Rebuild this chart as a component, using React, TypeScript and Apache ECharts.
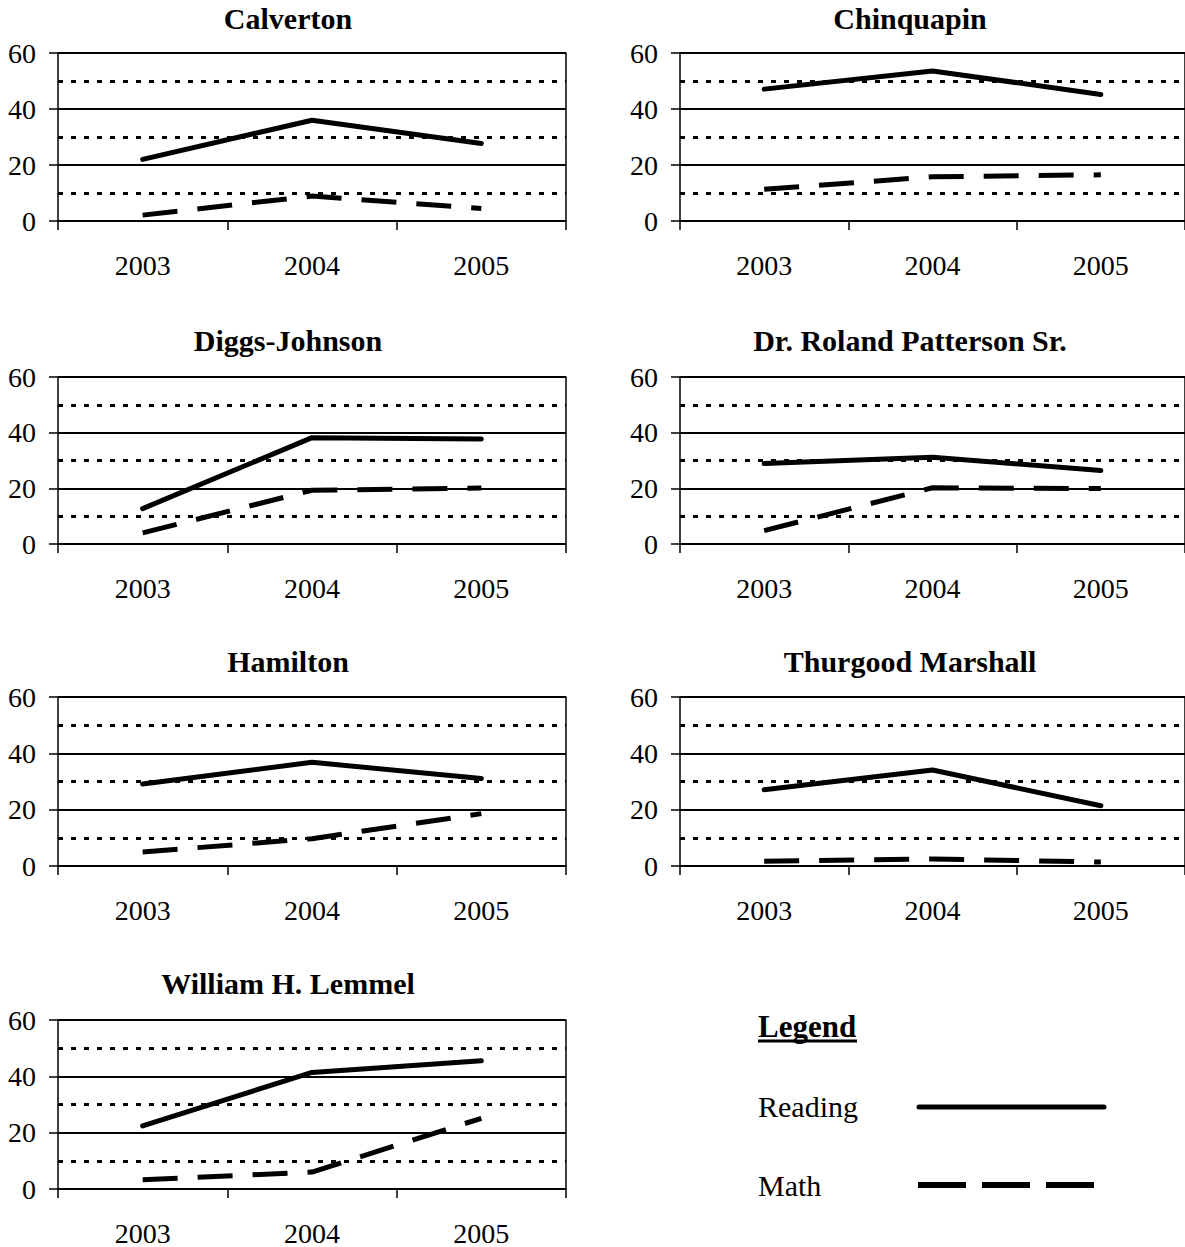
import React, { useEffect, useRef } from "react";
import * as echarts from "echarts";

const years = ["2003", "2004", "2005"];
const yTicks = [0, 20, 40, 60];

const schools = [
  "Calverton",
  "Chinquapin",
  "Diggs-Johnson",
  "Dr. Roland Patterson Sr.",
  "Hamilton",
  "Thurgood Marshall",
  "William H. Lemmel",
];

const readingCalverton = [22.0, 36.0, 27.7];
const mathCalverton = [2.1, 8.9, 4.5];
const readingChinquapin = [47.1, 53.6, 45.2];
const mathChinquapin = [11.3, 15.8, 16.5];
const readingDiggs = [12.7, 38.2, 37.7];
const mathDiggs = [4.0, 19.3, 20.1];
const readingPatterson = [28.9, 31.2, 26.4];
const mathPatterson = [4.8, 20.2, 19.9];
const readingHamilton = [29.1, 36.8, 31.1];
const mathHamilton = [5.0, 9.7, 18.6];
const readingMarshall = [27.1, 34.1, 21.4];
const mathMarshall = [1.7, 2.5, 1.4];
const readingLemmel = [22.4, 41.4, 45.5];
const mathLemmel = [3.3, 6.0, 25.1];

const readingAll = [
  readingCalverton,
  readingChinquapin,
  readingDiggs,
  readingPatterson,
  readingHamilton,
  readingMarshall,
  readingLemmel,
];
const mathAll = [
  mathCalverton,
  mathChinquapin,
  mathDiggs,
  mathPatterson,
  mathHamilton,
  mathMarshall,
  mathLemmel,
];

const legendTitle = "Legend";
const legendReading = "Reading";
const legendMath = "Math";

// layout (pixels)
const colLeft = [58, 680];
const colWidth = [508, 505];
const colTitleX = [288, 910];
const rowTop = [53, 377, 697, 1020];
const rowHeight = [168, 167, 169, 170];
const rowTitleY = [18, 340, 661, 983];

const FONT = "Liberation Serif";

function buildOption() {
  const grid: any[] = [];
  const xAxis: any[] = [];
  const yAxis: any[] = [];
  const series: any[] = [];
  const graphic: any[] = [];

  schools.forEach((name, i) => {
    const row = Math.floor(i / 2);
    const col = i % 2;
    grid.push({
      left: colLeft[col],
      top: rowTop[row],
      width: colWidth[col],
      height: rowHeight[row],
      containLabel: false,
    });
    xAxis.push({
      type: "category",
      gridIndex: i,
      data: years,
      boundaryGap: true,
      axisLine: { show: true, lineStyle: { color: "#000", width: 1.5 } },
      axisTick: { show: true, length: 9, lineStyle: { color: "#000", width: 1.5 } },
      axisLabel: {
        margin: 30,
        formatter: (v: string) => "{t|" + v + "}",
        rich: { t: { fontFamily: FONT, fontSize: 28, color: "#000" } },
      },
      splitLine: { show: false },
    });
    yAxis.push({
      type: "value",
      gridIndex: i,
      min: yTicks[0],
      max: yTicks[yTicks.length - 1],
      interval: 20,
      position: "left",
      axisLine: { show: true, lineStyle: { color: "#000", width: 1.5 } },
      axisTick: { show: true, length: 9, lineStyle: { color: "#000", width: 1.5 } },
      axisLabel: {
        margin: 22,
        formatter: (v: number) => "{t|" + v + "}",
        rich: { t: { fontFamily: "serif", fontSize: 28, color: "#000" } },
      },
      splitLine: { show: true, lineStyle: { color: "#000", width: 2 } },
    });
    yAxis.push({
      type: "value",
      gridIndex: i,
      min: 0,
      max: 60,
      interval: 10,
      position: "right",
      axisLine: { show: true, onZero: false, lineStyle: { color: "#000", width: 1.5 } },
      axisTick: { show: false },
      axisLabel: { show: false },
      splitLine: {
        show: true,
        lineStyle: {
          color: ["rgba(0,0,0,0)", "#000"],
          width: 3,
          type: [5, 8],
        },
      },
    });
    series.push({
      name: legendReading + " " + name,
      type: "line",
      xAxisIndex: i,
      yAxisIndex: i * 2,
      data: readingAll[i],
      symbol: "none",
      lineStyle: { color: "#000", width: 5, cap: "round", join: "round" },
      z: 5,
    });
    series.push({
      name: legendMath + " " + name,
      type: "line",
      xAxisIndex: i,
      yAxisIndex: i * 2,
      data: mathAll[i],
      symbol: "none",
      lineStyle: { color: "#000", width: 5, type: [35, 20], cap: "butt" },
      z: 5,
    });
    graphic.push({
      type: "text",
      x: colTitleX[col],
      y: rowTitleY[row],
      style: {
        text: name,
        fontFamily: FONT,
        fontWeight: "bold",
        fontSize: 30,
        fill: "#000",
        textAlign: "center",
        textVerticalAlign: "middle",
      },
    });
  });

  // legend block
  graphic.push(
    {
      type: "text",
      x: 758,
      y: 1026,
      style: {
        text: legendTitle,
        fontFamily: FONT,
        fontWeight: "bold",
        fontSize: 31,
        fill: "#000",
        textAlign: "left",
        textVerticalAlign: "middle",
      },
    },
    {
      type: "line",
      shape: { x1: 758, y1: 1041, x2: 857, y2: 1041 },
      style: { stroke: "#000", lineWidth: 3 },
    },
    {
      type: "text",
      x: 758,
      y: 1106,
      style: {
        text: legendReading,
        fontFamily: FONT,
        fontSize: 30,
        fill: "#000",
        textAlign: "left",
        textVerticalAlign: "middle",
      },
    },
    {
      type: "line",
      shape: { x1: 919, y1: 1107, x2: 1104, y2: 1107 },
      style: { stroke: "#000", lineWidth: 5, lineCap: "round" },
    },
    {
      type: "text",
      x: 758,
      y: 1185,
      style: {
        text: legendMath,
        fontFamily: FONT,
        fontSize: 30,
        fill: "#000",
        textAlign: "left",
        textVerticalAlign: "middle",
      },
    },
    {
      type: "line",
      shape: { x1: 918, y1: 1185, x2: 1094, y2: 1185 },
      style: { stroke: "#000", lineWidth: 6, lineDash: [48, 16], lineCap: "butt" },
    }
  );

  return {
    animation: false,
    backgroundColor: "#fff",
    textStyle: { fontFamily: FONT, color: "#000" },
    grid,
    xAxis,
    yAxis,
    series,
    graphic,
  };
}

export default function App() {
  const ref = useRef<HTMLDivElement>(null);
  useEffect(() => {
    if (!ref.current) return;
    const chart = echarts.init(ref.current, null, { renderer: "svg" });
    chart.setOption(buildOption() as any);
    return () => chart.dispose();
  }, []);
  return (
    <div
      ref={ref}
      style={{ position: "absolute", left: 0, top: 0, width: 1185, height: 1247, background: "#fff" }}
    />
  );
}
